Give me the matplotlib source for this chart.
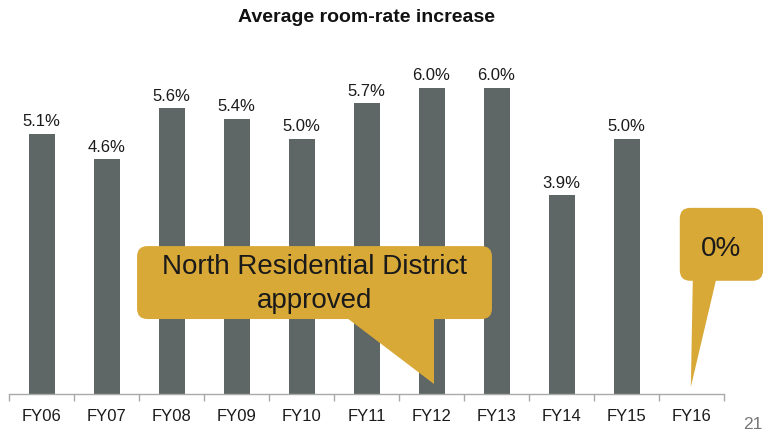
import matplotlib
matplotlib.use("Agg")
import matplotlib.pyplot as plt
from matplotlib.patches import FancyBboxPatch, Polygon

plt.rcParams['font.family'] = ['Liberation Sans', 'DejaVu Sans']

years = ["FY06", "FY07", "FY08", "FY09", "FY10", "FY11", "FY12", "FY13", "FY14", "FY15", "FY16"]
increase = [5.1, 4.6, 5.6, 5.4, 5.0, 5.7, 6.0, 6.0, 3.9, 5.0, None]
value_labels = ["5.1%", "4.6%", "5.6%", "5.4%", "5.0%", "5.7%", "6.0%", "6.0%", "3.9%", "5.0%"]

BAR = "#5e6766"
GOLD = "#d9a938"
AXIS = "#a9a9a9"

W, H = 768, 435
fig = plt.figure(figsize=(W / 100, H / 100), dpi=100)
fig.patch.set_facecolor("white")

# axes placed in pixel terms: x 9..724, baseline at y=395, 51 px per percent
ax_left, ax_right, base, top = 9, 724, 395, 395 - 7 * 51
ax = fig.add_axes([ax_left / W, (H - base) / H, (ax_right - ax_left) / W, (base - top) / H])
ax.set_xlim(-0.5, len(years) - 0.5)
ax.set_ylim(0, 7)

xs = list(range(len(years)))
bar_x = [i for i, v in zip(xs, increase) if v is not None]
bar_v = [v for v in increase if v is not None]
ax.bar(bar_x, bar_v, width=0.4, color=BAR, zorder=2)

for x, v, lab in zip(bar_x, bar_v, value_labels):
    ax.annotate(lab, (x, v), xytext=(0, 4), textcoords="offset points",
                ha="center", va="bottom", fontsize=12, color="#1a1a1a")

for s in ["top", "right", "left"]:
    ax.spines[s].set_visible(False)
ax.spines["bottom"].set_color(AXIS)
ax.spines["bottom"].set_linewidth(1.0)
ax.set_yticks([])
ax.set_xticks(xs)
ax.set_xticklabels(years, fontsize=12, color="#1a1a1a")
ax.tick_params(axis="x", which="major", length=0, pad=10)
ax.set_xticks([i - 0.5 for i in range(len(years) + 1)], minor=True)
ax.tick_params(axis="x", which="minor", length=5, color=AXIS, width=1.0, direction="out")

fig.text(366 / W, 1 - 17 / H, "Average room-rate increase", ha="center", va="center",
         fontsize=14, fontweight="bold", color="#111111")
fig.text(763 / W, 1 - 425 / H, "21", ha="right", va="center", fontsize=12.5, color="#777777")

# callouts (data coordinates; rounding corrected for the axis aspect)
aspect = 65 / 51


def callout(x0, x1, y0, y1, tail):
    box = FancyBboxPatch((x0, y0), x1 - x0, y1 - y0,
                         boxstyle="round,pad=0,rounding_size=0.16",
                         mutation_aspect=aspect, facecolor=GOLD, edgecolor="none",
                         zorder=4, clip_on=False)
    ax.add_patch(box)
    ax.add_patch(Polygon(tail, closed=True, facecolor=GOLD, edgecolor="none",
                         zorder=4, clip_on=False))


callout(1.47, 6.93, 1.47, 2.90, [(4.70, 1.50), (6.04, 1.50), (6.04, 0.20)])
ax.text(4.20, 2.17, "North Residential District\napproved", ha="center", va="center",
        fontsize=20, color="#1a1a1a", zorder=5, linespacing=1.4)

callout(9.82, 11.10, 2.22, 3.65, [(10.02, 2.25), (10.38, 2.25), (9.99, 0.14)])
ax.text(10.46, 2.87, "0%", ha="center", va="center", fontsize=20, color="#1a1a1a", zorder=5)

fig.savefig("out.png", dpi=100, facecolor="white")
